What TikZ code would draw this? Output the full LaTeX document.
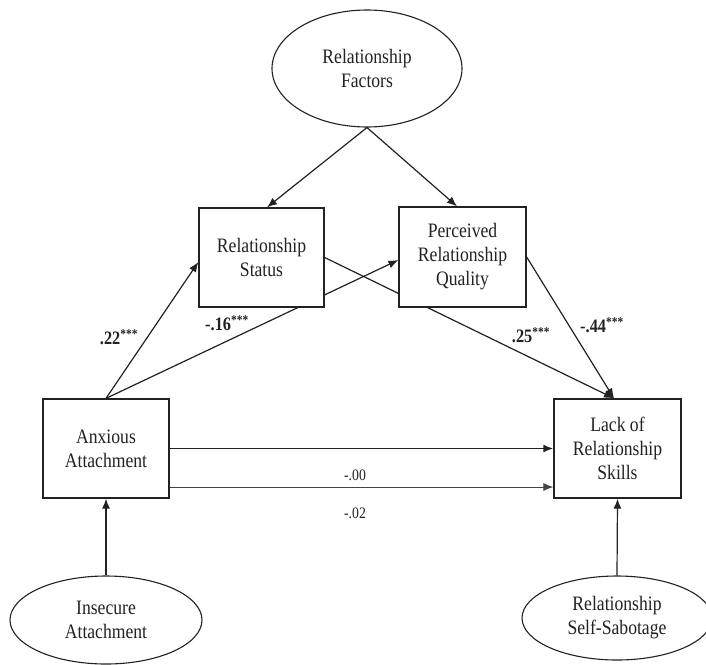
\documentclass[tikz,border=0pt]{standalone}
\usepackage{fontspec}
\setmainfont{Liberation Serif}[FakeStretch=0.86]
\usetikzlibrary{shapes.geometric,arrows.meta,backgrounds}

\definecolor{ink}{HTML}{222222}

\tikzset{
  x=1pt, y=-1pt,
  every node/.style={font=\fontsize{20.5}{24}\selectfont, text=ink},
  varbox/.style={draw=ink, line width=1.3pt, fill=white, rectangle, align=center,
                 inner sep=0pt},
  latent/.style={draw=ink, line width=1.1pt, fill=white, ellipse, align=center,
                 inner sep=0pt},
  path/.style={draw=ink, line width=1.2pt, -{Latex[length=10pt,width=8pt]}},
  thinpath/.style={draw=ink!85, line width=0.9pt, -{Latex[length=10pt,width=8pt]}},
  thickpath/.style={draw=ink, line width=1.6pt, -{Latex[length=10pt,width=8pt]}},
  coef/.style={font=\fontsize{19}{22}\selectfont\bfseries},
  plaincoef/.style={font=\fontsize{16}{18}\selectfont},
}

\begin{document}
\begin{tikzpicture}
\useasboundingbox (0,0) rectangle (706,664);

% latent variables
\node[latent, minimum width=190pt, minimum height=117pt] (rf) at (367,68.5)
  {Relationship\\Factors};
\node[latent, minimum width=192pt, minimum height=88pt] (ins) at (106,620)
  {Insecure\\Attachment};
\node[latent, minimum width=190pt, minimum height=84pt] (sab) at (617,618)
  {Relationship\\Self-Sabotage};

% observed variables
\node[varbox, minimum width=125pt, minimum height=99pt] (status) at (261.5,257.5)
  {Relationship\\Status};
\node[varbox, minimum width=127pt, minimum height=100pt] (perc) at (462.5,257)
  {Perceived\\Relationship\\Quality};
\node[varbox, minimum width=126pt, minimum height=99pt] (anx) at (106,448.5)
  {Anxious\\Attachment};
\node[varbox, minimum width=127pt, minimum height=99pt] (lack) at (617.5,448.5)
  {Lack of\\Relationship\\Skills};

% paths, drawn beneath the boxes
\begin{scope}[on background layer]
  \fill[white] (0,0) rectangle (706,664);
  \draw[path] (rf.south) -- ([xshift=5.5pt]status.north);
  \draw[path] (rf.south) -- ([xshift=-5.5pt]perc.north);
  \draw[path] (anx.north) -- ([yshift=-4.5pt]status.west);
  \draw[path] (anx.north) -- ([yshift=-3pt]perc.west);
  \draw[path] (status.east) -- ([xshift=-3.5pt]lack.north);
  \draw[path] (perc.east) -- ([xshift=-3.5pt]lack.north);
  \draw[thickpath] (anx.east) -- (lack.west);
  \draw[thinpath] ([yshift=-38.5pt]anx.east) -- ([yshift=-38.5pt]lack.west);
  \draw[path] (ins.north) -- (anx.south);
  \draw[path] (sab.north) -- (lack.south);
\end{scope}

% path coefficients
\node[coef] (c1) at (119,337) {.22\textsuperscript{***}};
\node[coef] (c2) at (227,323) {-.16\textsuperscript{***}};
\node[coef] (c3) at (531,335) {.25\textsuperscript{***}};
\node[coef] (c4) at (602,325) {-.44\textsuperscript{***}};
\node[plaincoef] (c5) at (355,475) {-.00};
\node[plaincoef] (c6) at (355,513) {-.02};
\end{tikzpicture}
\end{document}
